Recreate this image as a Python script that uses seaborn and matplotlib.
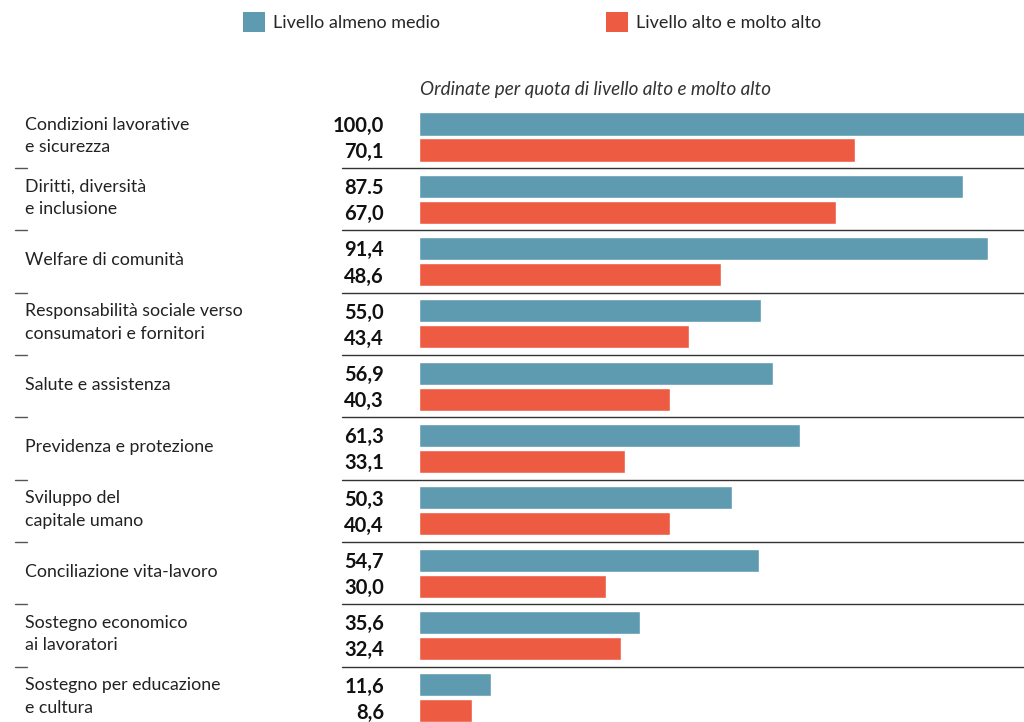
import matplotlib
matplotlib.use("Agg")
import matplotlib.pyplot as plt
import seaborn as sns
import pandas as pd
from matplotlib.patches import Patch

categories = [
    "Condizioni lavorative\ne sicurezza",
    "Diritti, diversità\ne inclusione",
    "Welfare di comunità",
    "Responsabilità sociale verso\nconsumatori e fornitori",
    "Salute e assistenza",
    "Previdenza e protezione",
    "Sviluppo del\ncapitale umano",
    "Conciliazione vita-lavoro",
    "Sostegno economico\nai lavoratori",
    "Sostegno per educazione\ne cultura",
]
series_names = ["Livello almeno medio", "Livello alto e molto alto"]
medio = [100.0, 87.5, 91.4, 55.0, 56.9, 61.3, 50.3, 54.7, 35.6, 11.6]
alto = [70.1, 67.0, 48.6, 43.4, 40.3, 33.1, 40.4, 30.0, 32.4, 8.6]
medio_labels = ["100,0", "87.5", "91,4", "55,0", "56,9", "61,3", "50,3", "54,7", "35,6", "11,6"]
alto_labels = ["70,1", "67,0", "48,6", "43,4", "40,3", "33,1", "40,4", "30,0", "32,4", "8,6"]
subtitle = "Ordinate per quota di livello alto e molto alto"

colors = ["#5E9AB0", "#EE5B43"]

df = pd.DataFrame({
    "cat": categories * 2,
    "serie": [series_names[0]] * len(categories) + [series_names[1]] * len(categories),
    "val": medio + alto,
})

sns.set_theme(style="white")
plt.rcParams["font.family"] = ["Lato", "DejaVu Sans"]

W, H = 1024, 722
fig = plt.figure(figsize=(W / 100, H / 100), dpi=100)

pitch = 62.3
top_px = 137 - pitch / 2
ax_h_px = H - top_px
ax = fig.add_axes([419 / W, 0, 605 / W, ax_h_px / H])

sns.barplot(data=df, y="cat", x="val", hue="serie", orient="h",
            palette=colors, width=0.835, gap=0.115, dodge=True,
            order=categories, hue_order=series_names, ax=ax, legend=False,
            saturation=1)

px_per_unit = 6.22
ax.set_xlim(0, 605 / px_per_unit)
ax.set_ylim(-0.5 + ax_h_px / pitch, -0.5)
ax.set_axis_off()

tr = ax.get_yaxis_transform()
sep_x0 = (342 - 419) / 605
for i in range(len(categories) - 1):
    y = i + 0.5
    ax.plot([sep_x0, 1.0], [y, y], transform=tr,
            color="#333333", lw=1.0, clip_on=False)
    ax.plot([(15 - 419) / 605, (27 - 419) / 605], [y, y],
            transform=tr, color="#555555", lw=1.0, clip_on=False)

off = 0.835 / 4
lab_x = (384 - 419) / 605
cat_x = (25 - 419) / 605
for i, cat in enumerate(categories):
    ax.text(lab_x, i - off + 0.03, medio_labels[i], transform=tr,
            ha="right", va="center", fontsize=14.5, fontweight="bold", color="#111111")
    ax.text(lab_x, i + off + 0.03, alto_labels[i], transform=tr,
            ha="right", va="center", fontsize=14.5, fontweight="bold", color="#111111")
    ax.text(cat_x, i - 0.02, cat, transform=tr,
            ha="left", va="center", fontsize=12.8, color="#222222", linespacing=1.5)

fig.text(420 / W, 1 - 90 / H, subtitle, ha="left", va="center",
         fontsize=13.6, style="italic", color="#333333")

handles = [Patch(facecolor=c, edgecolor="none") for c in colors]
fig.legend(handles, series_names, loc="center left",
           bbox_to_anchor=(236 / W, 1 - 22 / H), ncol=2, frameon=False,
           fontsize=13, handlelength=1.2, handleheight=1.3,
           handletextpad=0.45, columnspacing=9.2, borderaxespad=0)

fig.savefig("out.png", dpi=100, facecolor="white")
